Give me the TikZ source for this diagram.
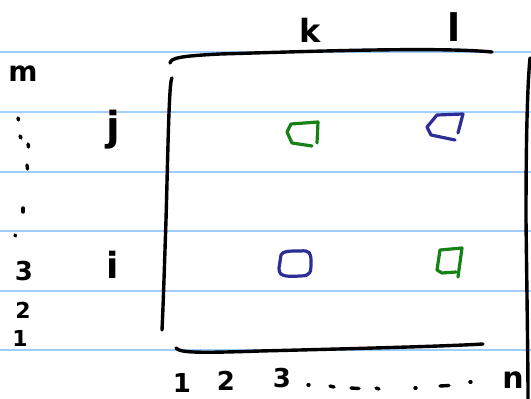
\documentclass[tikz,border=0pt]{standalone}
\usepackage{fontspec}
\setmainfont{DejaVu Sans}
\definecolor{ruleblue}{RGB}{160,205,250}
\definecolor{inkgreen}{RGB}{20,130,20}
\definecolor{inkblue}{RGB}{45,45,150}
\tikzset{
  ruling/.style={draw=ruleblue, line width=1.6pt},
  ink/.style={draw=black, line width=3.4pt, line cap=round, line join=round},
  tick/.style={draw=black, line width=3.4pt, line cap=round},
  gbox/.style={draw=inkgreen, line width=3.2pt, line cap=round, line join=round},
  bbox/.style={draw=inkblue, line width=3.2pt, line cap=round, line join=round},
  lbl/.style={inner sep=0pt, font=\fontsize{26}{26}\selectfont},
  big/.style={inner sep=0pt, font=\bfseries\fontsize{36}{36}\selectfont},
}
\begin{document}
\begin{tikzpicture}[x=1pt, y=-1pt]
\useasboundingbox (0,0) rectangle (531,399);

% ruled notebook lines
\foreach \yy in {52,112,172,231,291,350}
  \draw[ruling] (0,\yy) -- (531,\yy);

% matrix brackets
\draw[ink] (170,63) .. controls (171,58) and (180,56) .. (220,54)
           .. controls (320,51) and (440,47) .. (492,52);
\draw[ink] (172,78) .. controls (169,80) and (168,150) .. (166,220)
           .. controls (164,280) and (163,310) .. (162,330);
\draw[ink] (176,348) .. controls (180,353) and (200,353) .. (260,351)
           .. controls (380,348) and (450,346) .. (483,344);
\draw[ink] (530,58) .. controls (527,90) and (526,150) .. (526,220)
           .. controls (527,300) and (528,360) .. (528,399);

% entries
\draw[gbox] (317,143) -- (318,122) -- (291,124) -- (287,132) -- (292,143) -- (312,146);
\draw[bbox] (458,133) -- (463,114) -- (437,115) -- (427,127) -- (431,135) -- (455,140);
\draw[bbox] (281,255) .. controls (283,251) and (288,251) .. (300,251)
            .. controls (310,250) and (311,253) .. (311,262)
            .. controls (311,272) and (311,276) .. (300,276)
            .. controls (284,277) and (279,276) .. (279,268) -- cycle;
\draw[gbox] (458,277) -- (462,248) -- (440,250) -- (437,270) -- (442,273) -- (456,272);

% row labels
\node[lbl, font=\bfseries\fontsize{28}{28}\selectfont] (m) at (23,74) {m};
\node[lbl, font=\bfseries\fontsize{26}{26}\selectfont] (r3) at (24,271) {3};
\node[lbl, font=\bfseries\fontsize{22}{22}\selectfont] (r2) at (23,310) {2};
\node[lbl, font=\bfseries\fontsize{22}{22}\selectfont] (r1) at (20,338) {1};
\draw[tick] (18,118) -- (18.5,120);
\draw[tick] (20,136) -- (21,138);
\draw[tick] (28,144) -- (28.5,147);
\draw[tick] (27,165) -- (27.5,169);
\draw[tick] (23,208) -- (23,212);
\draw[tick] (15,235) -- (15.5,236);

% row indices
\node[big, font=\bfseries\fontsize{40}{40}\selectfont] (j) at (113,130) {j};
\node[big] (i) at (113,265) {i};

% column indices
\node[big, font=\bfseries\fontsize{32}{32}\selectfont] (k) at (310,30) {k};
\node[big, font=\bfseries\fontsize{38}{38}\selectfont] (l) at (454,27) {l};

% column labels
\node[lbl, font=\bfseries\fontsize{26}{26}\selectfont] (c1) at (182,383) {1};
\node[lbl, font=\bfseries\fontsize{26}{26}\selectfont] (c2) at (226,381) {2};
\node[lbl, font=\bfseries\fontsize{26}{26}\selectfont] (c3) at (282,378) {3};
\node[lbl, font=\bfseries\fontsize{30}{30}\selectfont] (cn) at (513,380) {n};
\draw[tick] (308,385) -- (309,385);
\draw[tick] (330,386) -- (334,387);
\draw[tick] (351,388) -- (359,388.5);
\draw[tick] (376,388) -- (379,389);
\draw[tick] (415,388) -- (416,388);
\draw[tick] (440,386) -- (449,385.5);
\draw[tick] (470,382) -- (471,382);
\end{tikzpicture}
\end{document}
